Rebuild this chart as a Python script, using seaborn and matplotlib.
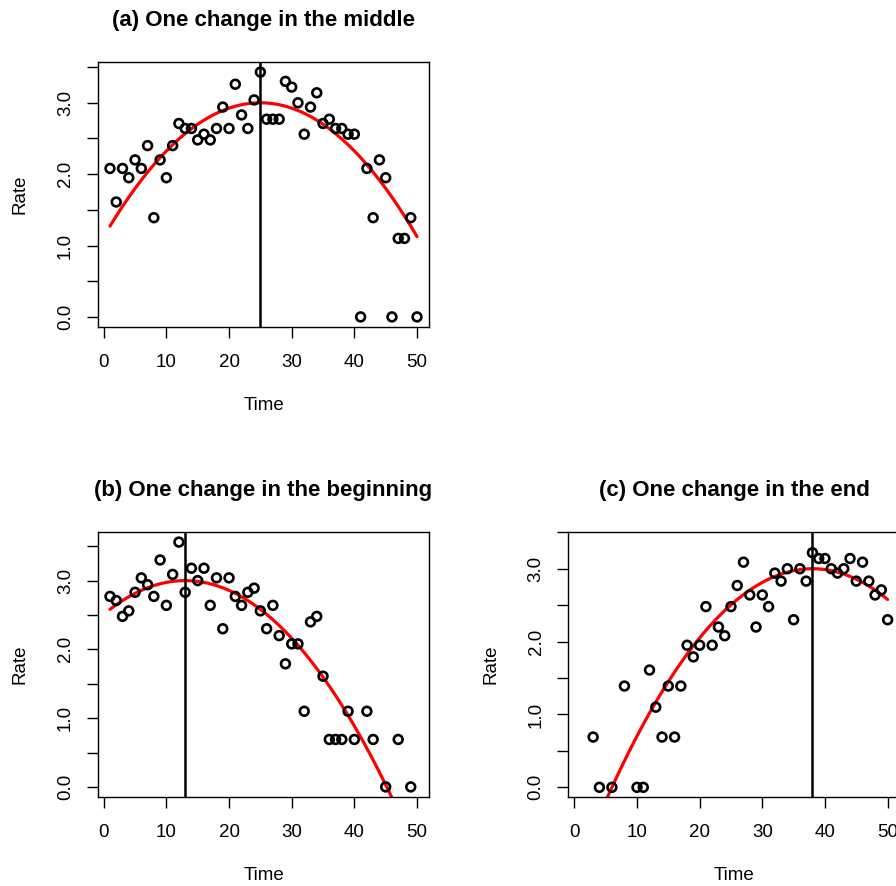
import numpy as np
import pandas as pd
import matplotlib
matplotlib.use("Agg")
import matplotlib.pyplot as plt
import seaborn as sns

# ---------------- data ----------------
time = list(range(1, 51))

rate_a = [2.08, 1.61, 2.08, 1.95, 2.20, 2.08, 2.40, 1.39, 2.20, 1.95,
          2.40, 2.71, 2.64, 2.64, 2.48, 2.56, 2.48, 2.64, 2.94, 2.64,
          3.26, 2.83, 2.64, 3.04, 3.43, 2.77, 2.77, 2.77, 3.30, 3.22,
          3.00, 2.56, 2.94, 3.14, 2.71, 2.77, 2.64, 2.64, 2.56, 2.56,
          0.00, 2.08, 1.39, 2.20, 1.95, 0.00, 1.10, 1.10, 1.39, 0.00]

rate_b = [2.77, 2.71, 2.48, 2.56, 2.83, 3.04, 2.94, 2.77, 3.30, 2.64,
          3.09, 3.56, 2.83, 3.18, 3.00, 3.18, 2.64, 3.04, 2.30, 3.04,
          2.77, 2.64, 2.83, 2.89, 2.56, 2.30, 2.64, 2.20, 1.79, 2.08,
          2.08, 1.10, 2.40, 2.48, 1.61, 0.69, 0.69, 0.69, 1.10, 0.69,
          None, 1.10, 0.69, None, 0.00, None, 0.69, None, 0.00, None]

rate_c = [None, None, 0.69, 0.00, None, 0.00, None, 1.39, None, 0.00,
          0.00, 1.61, 1.10, 0.69, 1.39, 0.69, 1.39, 1.95, 1.79, 1.95,
          2.48, 1.95, 2.20, 2.08, 2.48, 2.77, 3.09, 2.64, 2.20, 2.64,
          2.48, 2.94, 2.83, 3.00, 2.30, 3.00, 2.83, 3.22, 3.14, 3.14,
          3.00, 2.94, 3.00, 3.14, 2.83, 3.09, 2.83, 2.64, 2.71, 2.30]

titles = ["(a) One change in the middle",
          "(b) One change in the beginning",
          "(c) One change in the end"]
change_points = [25, 13, 38]
# quadratic mean curve: peak level, curvature
curve_peak = [3.0, 3.0, 3.0]
curve_curv = [0.0030, 0.0029, 0.00293]

x_ticks = [0, 10, 20, 30, 40, 50]
y_ticks = [0.0, 0.5, 1.0, 1.5, 2.0, 2.5, 3.0, 3.5]
y_labels = ["0.0", "", "1.0", "", "2.0", "", "3.0", ""]

# ---------------- styling ----------------
sns.set_theme(style="ticks")
plt.rcParams["font.family"] = ["Liberation Sans", "DejaVu Sans"]
plt.rcParams["axes.linewidth"] = 1.0

W, H = 896, 886
fig = plt.figure(figsize=(W / 100, H / 100), dpi=100)


def box(l, t, r, b):
    return [l / W, 1 - b / H, (r - l) / W, (b - t) / H]


boxes = [box(97.7, 62.3, 429.3, 326.7),
         box(97.7, 532.3, 429.3, 796.7),
         box(568.3, 532.3, 899.9, 796.7)]

rates = [rate_a, rate_b, rate_c]

for i in range(3):
    ax = fig.add_axes(boxes[i])
    df = pd.DataFrame({"Time": time, "Rate": pd.array(rates[i], dtype="Float64")}).dropna()
    df["Rate"] = df["Rate"].astype(float)

    # mean curve
    tgrid = np.linspace(1, 50, 300)
    cdf = pd.DataFrame({"Time": tgrid,
                        "Rate": curve_peak[i] - curve_curv[i] * (tgrid - change_points[i]) ** 2})
    sns.lineplot(data=cdf, x="Time", y="Rate", color="#ff0000", linewidth=2.3, ax=ax, zorder=2)

    ax.axvline(change_points[i], color="black", linewidth=1.8, zorder=3)

    sns.scatterplot(data=df, x="Time", y="Rate", marker="o", s=40,
                    facecolor="none", edgecolor="black", linewidth=1.9, ax=ax, zorder=4)

    lo, hi = df["Rate"].min(), df["Rate"].max()
    pad = 0.04 * (hi - lo)
    ax.set_ylim(lo - pad, hi + pad)
    ax.set_xlim(1 - 0.04 * 49, 50 + 0.04 * 49)

    ax.set_xticks(x_ticks)
    ax.set_xticklabels([str(v) for v in x_ticks])
    ax.set_yticks(y_ticks)
    ax.set_yticklabels(y_labels, rotation=90, va="center")

    ax.tick_params(axis="both", length=8, width=1.0, color="black",
                   labelsize=13.5, labelcolor="black", direction="out")
    ax.tick_params(axis="x", pad=11.5)
    ax.tick_params(axis="y", pad=9)

    for sp in ax.spines.values():
        sp.set_visible(True)
        sp.set_color("black")
        sp.set_linewidth(1.0)

    ax.set_title(titles[i], fontsize=16, fontweight="bold", pad=26, color="black")
    ax.set_xlabel("Time", fontsize=13.5, color="black")
    ax.set_ylabel("Rate", fontsize=13.5, color="black")
    ax.xaxis.label.set_va("center")
    ax.yaxis.label.set_va("center")
    ax.xaxis.set_label_coords(0.5, (326.7 - 405.3) / 264.4)
    ax.yaxis.set_label_coords((20 - 97.7) / 331.6, 0.5)
    ax.grid(False)

fig.savefig("out.png", dpi=100, facecolor="white")
